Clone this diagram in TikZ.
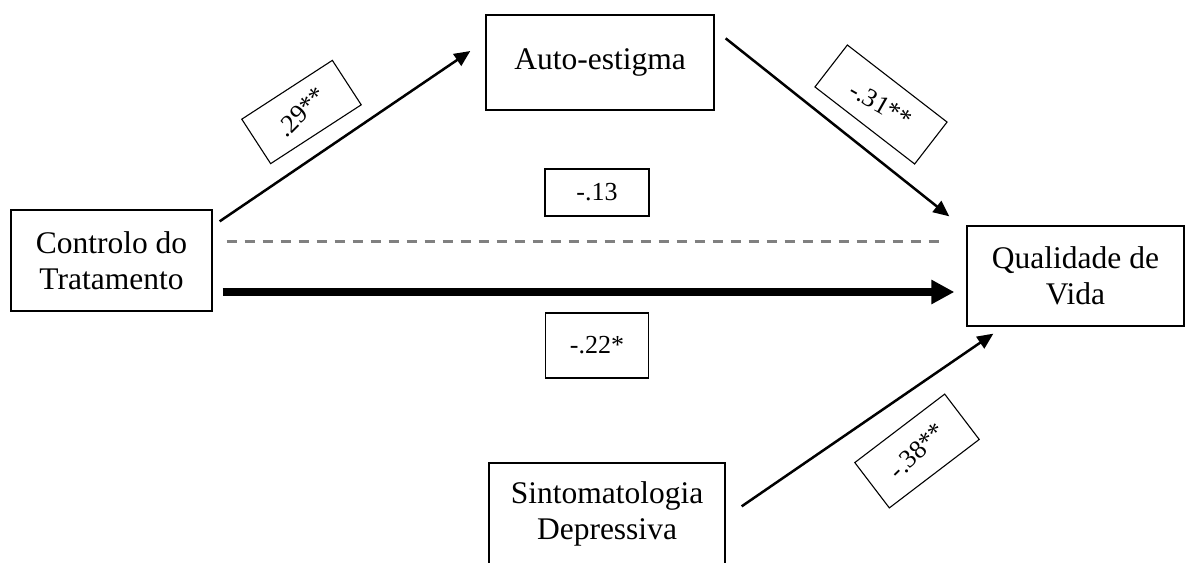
\documentclass[tikz,border=0pt]{standalone}
\usepackage{fontspec}
\setmainfont{Liberation Serif}
\usetikzlibrary{arrows.meta, calc}
\definecolor{linecolor}{HTML}{000000}
\definecolor{dashcolor}{HTML}{808080}

\begin{document}
\begin{tikzpicture}[x=1pt, y=-1pt,
    every node/.style={font=\fontsize{31.5}{36}\selectfont},
    var/.style={draw=linecolor, line width=1.3pt, align=center, inner sep=0pt},
    coef/.style={draw=linecolor, line width=1.1pt, inner sep=0pt, font=\fontsize{26}{30}\selectfont},
    link/.style={linecolor, line width=2.5pt, -{Triangle[length=16pt, width=14pt]}},
    ctotal/.style={linecolor, line width=8pt, -{Triangle[length=23pt, width=23pt]}},
    cprime/.style={dashcolor, line width=3pt, dash pattern=on 10pt off 8pt},
]
\useasboundingbox (0,0) rectangle (1185,562);

% variables
\node[var, minimum width=201pt, minimum height=101pt] (ctrl) at (111.5, 260.5) {Controlo do\\Tratamento};
\node[var, minimum width=228pt, minimum height=95pt] (auto) at (600, 62.5) {Auto-estigma};
\node[var, minimum width=217pt, minimum height=100pt] (qual) at (1075.5, 276) {Qualidade de\\Vida};
\node[var, minimum width=236pt, minimum height=101pt] (sint) at (607, 513.5) {Sintomatologia\\Depressiva};

% coefficients
\node[coef, minimum width=104pt, minimum height=47pt] (c13) at (597, 192.5) {-.13};
\node[coef, minimum width=103pt, minimum height=65pt] (c22) at (597, 345.5) {-.22*};
\node[coef, rotate=33, minimum width=108pt, minimum height=53pt] (c29) at (301.5, 112) {\rotatebox{12}{.29**}};
\node[coef, rotate=-37.7, minimum width=126pt, minimum height=53pt] (c31) at (881, 104.5) {\rotatebox{8}{-.31**}};
\node[coef, rotate=37.3, minimum width=113pt, minimum height=57pt] (c38) at (917, 451) {\rotatebox{7}{-.38**}};

% paths
\draw[link] ([shift={(7,12)}]ctrl.north east) -- ([shift={(-15,-11.5)}]auto.west);
\draw[link] ([shift={(11,24)}]auto.north east) -- ([shift={(-17,-9)}]qual.north west);
\draw[cprime] ([shift={(14,-19.5)}]ctrl.east) -- ([shift={(-20,-35)}]qual.west);
\draw[ctotal] ([shift={(10,31.5)}]ctrl.east) -- ([shift={(-12,16)}]qual.west);
\draw[link] ([shift={(16,44)}]sint.north east) -- ([shift={(27,7)}]qual.south west);

\end{tikzpicture}
\end{document}
